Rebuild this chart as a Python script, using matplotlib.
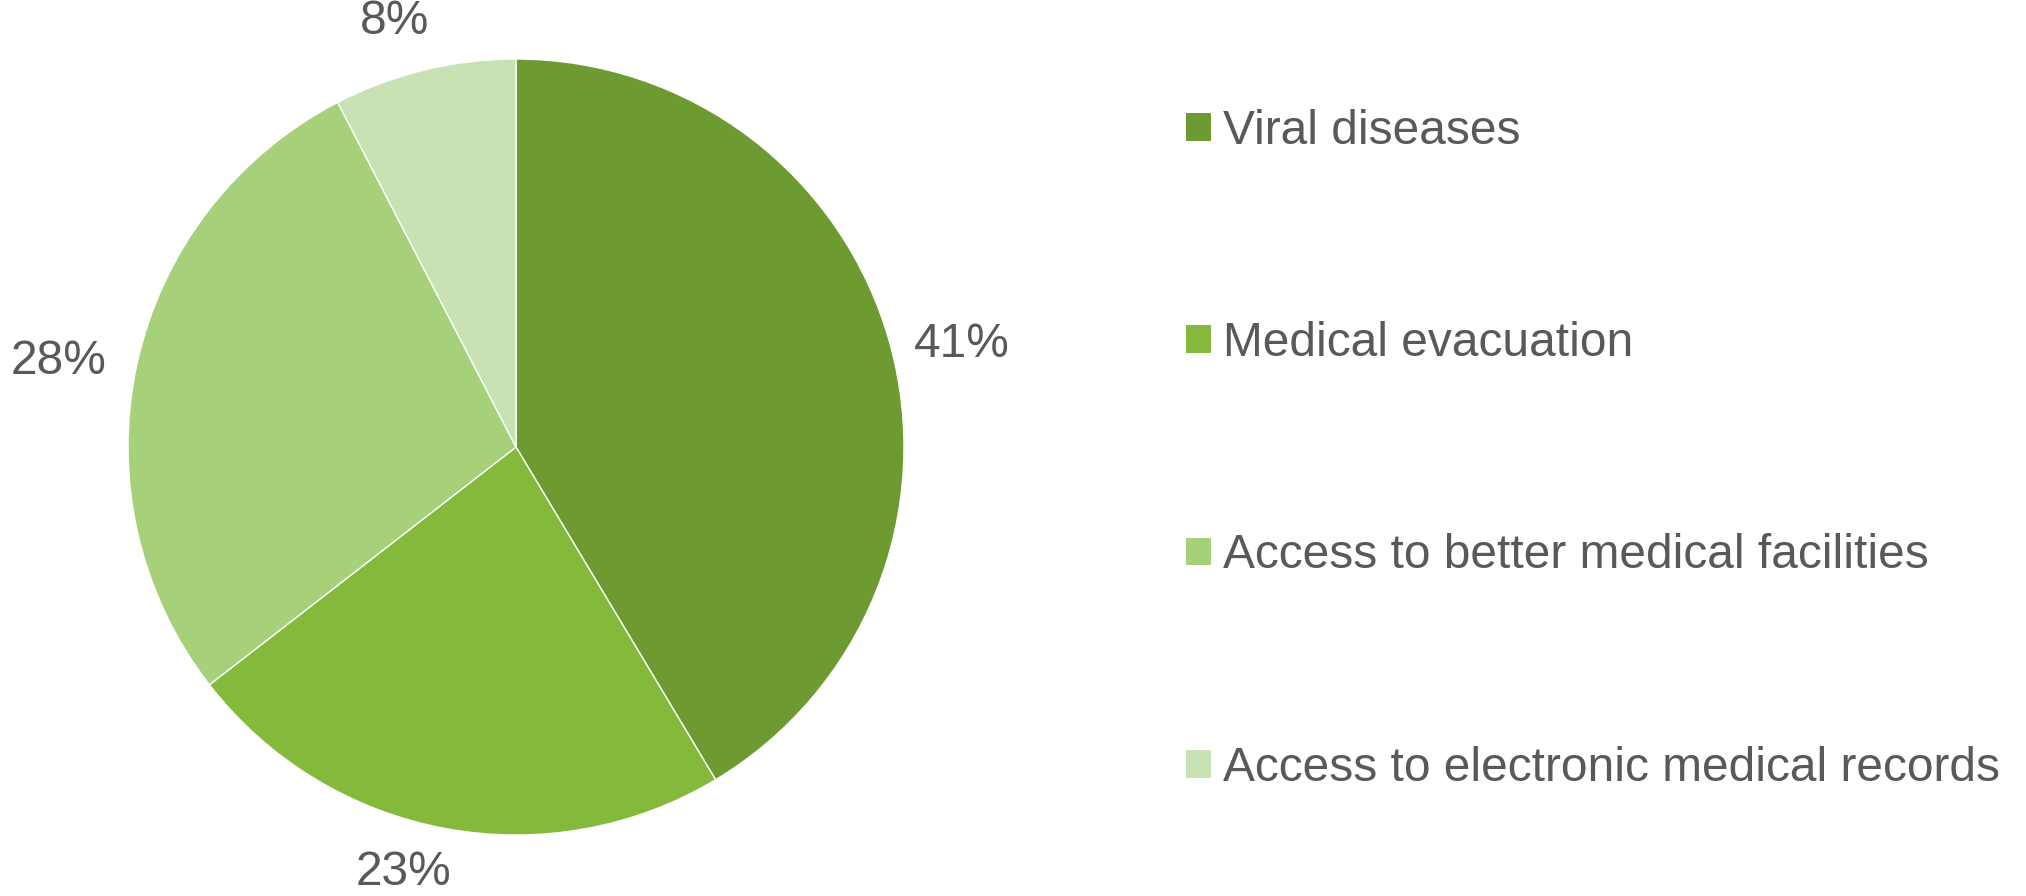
import matplotlib
matplotlib.use("Agg")
import matplotlib.pyplot as plt
import numpy as np

categories = ["Viral diseases", "Medical evacuation",
              "Access to better medical facilities", "Access to electronic medical records"]
values = [41.4, 23.1, 27.9, 7.6]
colors = ["#6E9B31", "#84B93B", "#A6D07A", "#C8E2B4"]
text_color = "#595959"

# label layout (radial distance and angular shift in degrees, clockwise)
label_dist = [1.18, 1.135, 1.20, 1.14]
label_shift = [2.5, 4.2, -1.9, -2.3]

plt.rcParams['font.family'] = ['Liberation Sans', 'DejaVu Sans']

W, H = 2026, 896
fig = plt.figure(figsize=(W / 100, H / 100), dpi=100)
cx, cy, r = 516, 447, 388
ax = fig.add_axes([(cx - r) / W, (H - cy - r) / H, 2 * r / W, 2 * r / H])

wedges, texts, autotexts = ax.pie(
    values, colors=colors, startangle=90, counterclock=False,
    autopct=lambda p: f"{p:.0f}%", pctdistance=1.17,
    wedgeprops=dict(linewidth=1.0, edgecolor="white"),
    textprops=dict(fontsize=34.5, color=text_color))
ax.set_xlim(-1, 1)
ax.set_ylim(-1, 1)
ax.set_aspect('equal')

for w, t, d, s in zip(wedges, autotexts, label_dist, label_shift):
    mid = np.deg2rad((w.theta1 + w.theta2) / 2 - s)
    t.set_position((d * np.cos(mid), d * np.sin(mid)))

leg = fig.legend(wedges, categories, loc='upper left',
                 bbox_to_anchor=(1186 / W, 1 - 109 / H),
                 frameon=False, fontsize=34.5, labelcolor=text_color,
                 handlelength=0.52, handleheight=0.52, handletextpad=0.25,
                 labelspacing=3.49, borderaxespad=0, borderpad=0)
for h in leg.legend_handles:
    h.set_edgecolor('none')

fig.savefig("out.png", dpi=100, facecolor="white")
